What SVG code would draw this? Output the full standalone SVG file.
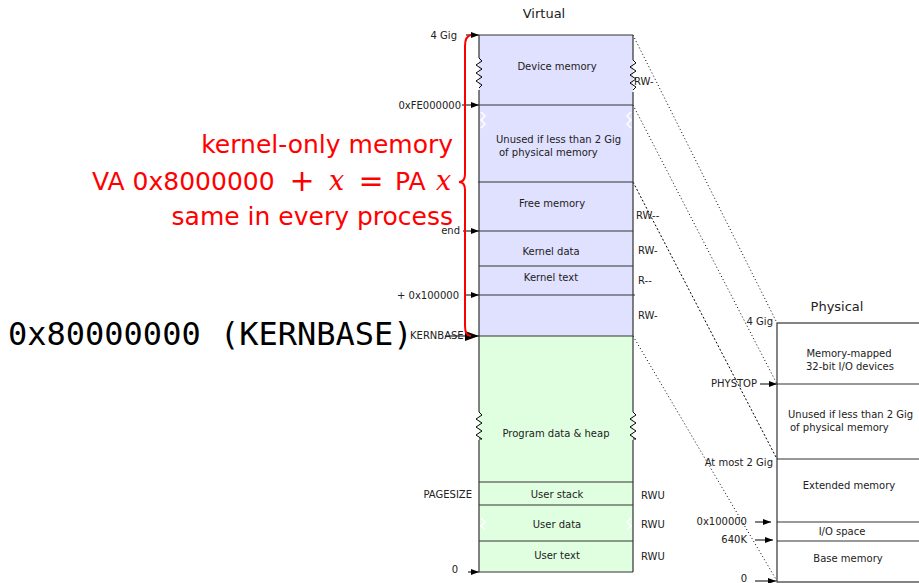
<svg xmlns="http://www.w3.org/2000/svg" width="919" height="583" viewBox="0 0 919 583">
<style>
.t{font-family:"DejaVu Sans",sans-serif;font-size:10px;fill:#222}
.m{text-anchor:middle}
.e{text-anchor:end}
.h{font-family:"DejaVu Sans",sans-serif;font-size:13px;fill:#222;text-anchor:middle}
.b{stroke:#333;stroke-width:1.2;fill:none}
.z{stroke:#000;stroke-width:1;fill:none}
.d{stroke:#000;stroke-width:1;fill:none;stroke-dasharray:1 2.5}
.r{font-family:"DejaVu Sans",sans-serif;font-size:25px;fill:#ff0000;text-anchor:end}
.rs{font-family:"DejaVu Sans",sans-serif;font-size:25px;fill:#ff0000}
.mi{font-family:"DejaVu Serif",serif;font-style:italic;font-size:27px;fill:#ff0000}
.mo{font-family:"DejaVu Sans",sans-serif;font-size:30px;fill:#ff0000;text-anchor:middle}
.ar{stroke:#000;stroke-width:1;fill:none;marker-end:url(#a)}
</style>
<defs>
<marker id="a" markerUnits="userSpaceOnUse" markerWidth="8" markerHeight="6" refX="8" refY="3" orient="auto"><path d="M0,0 L8,3 L0,6 z" fill="#000"/></marker>
<marker id="ab" markerUnits="userSpaceOnUse" markerWidth="14" markerHeight="10" refX="14" refY="5" orient="auto"><path d="M0,0 L14,5 L0,10 z" fill="#000"/></marker>
</defs>

<g id="connectors">
<path class="d" d="M633,35 L777,323"/>
<path class="d" d="M633,105 L777,384"/>
<path class="d" d="M633,182 L777,459" style="stroke-dasharray:2 2"/>
<path class="d" d="M633,336 L777,581"/>
<path class="ar" d="M466,35 L479,35"/>
<path class="ar" d="M462,105 L479,105"/>
<path class="ar" d="M463,231 L479,231"/>
<path class="ar" d="M466,295 L479,295"/>
<path d="M445,336 L479,336" stroke="#000" stroke-width="1.2" fill="none" marker-end="url(#ab)"/>
<path class="ar" d="M468,572 L479,572"/>
<path class="ar" d="M760,384 L777,384"/>
<path class="ar" d="M755,522 L771,522"/>
<path class="ar" d="M755,540 L773,540"/>
<path class="ar" d="M755,581 L776,581"/>
</g>

<g id="virtual">
<text class="h" x="544" y="18">Virtual</text>
<rect x="479" y="35" width="154" height="301" fill="#e0e0ff"/>
<rect x="479" y="336" width="154" height="236" fill="#e0ffe0"/>
<path class="b" d="M479,35 L633,35 M479,105 L633,105 M478,182 L633,182 M479,231 L633,231 M479,266 L633,266 M479,295 L635,295 M479,336 L633,336 M479,482 L633,482 M479,505 L633,505 M479,541 L633,541 M479,572 L633,572"/>
<path class="b" d="M479,35 L479,58 M479,90 L479,412 M479,440 L479,572 M633,35 L633,60 M633,92 L633,412 M633,440 L633,572"/>
<path class="z" d="M479,58 l3,3 l-6,4 l6,4 l-6,4 l6,4 l-6,4 l6,4 l-3,3"/>
<path class="z" d="M633,60 l3,3 l-6,4 l6,4 l-6,4 l6,4 l-6,4 l6,4 l-3,3"/>
<path class="z" d="M479,412 l3,3 l-6,4 l6,4 l-6,4 l6,4 l-6,4 l6,4 l-3,0"/>
<path class="z" d="M633,412 l3,3 l-6,4 l6,4 l-6,4 l6,4 l-6,4 l6,4 l-3,0"/>
<path d="M481,112 l4,4 l-4,4 l4,4 l-4,4 M631,112 l-4,4 l4,4 l-4,4 l4,4 M481,518 l4,4 l-4,4 l4,4 M631,518 l-4,4 l4,4 l-4,4" stroke="#fff" stroke-width="1.5" fill="none"/>
<text class="t m" x="557" y="70">Device memory</text>
<text class="t" x="496" y="143">Unused if less than 2 Gig</text>
<text class="t" x="499" y="156">of physical memory</text>
<text class="t m" x="552" y="207">Free memory</text>
<text class="t m" x="551" y="255">Kernel data</text>
<text class="t m" x="551" y="281">Kernel text</text>
<text class="t m" x="556" y="437">Program data &amp; heap</text>
<text class="t m" x="557" y="498">User stack</text>
<text class="t m" x="557" y="528">User data</text>
<text class="t m" x="557" y="559">User text</text>
<text class="t e" x="457" y="39">4 Gig</text>
<text class="t e" x="461" y="109">0xFE000000</text>
<text class="t e" x="460" y="234">end</text>
<text class="t e" x="459" y="299">+ 0x100000</text>
<text class="t" x="410" y="339">KERNBASE</text>
<text class="t e" x="472" y="498">PAGESIZE</text>
<text class="t e" x="458" y="573">0</text>
<text class="t" x="634" y="85">RW-</text>
<text class="t" x="636" y="219">RW--</text>
<text class="t" x="638" y="254">RW-</text>
<text class="t" x="638" y="284">R--</text>
<text class="t" x="638" y="319">RW-</text>
<text class="t" x="641" y="499">RWU</text>
<text class="t" x="641" y="528">RWU</text>
<text class="t" x="641" y="560">RWU</text>
</g>

<g id="physical">
<text class="h" x="837" y="311">Physical</text>
<rect x="777" y="323" width="150" height="259" fill="#fff" stroke="#333" stroke-width="1.2"/>
<path class="b" d="M777,384 L925,384 M777,459 L925,459 M777,522 L925,522 M777,541 L925,541"/>
<text class="t m" x="849" y="357">Memory-mapped</text>
<text class="t m" x="850" y="370">32-bit I/O devices</text>
<text class="t" x="788" y="418">Unused if less than 2 Gig</text>
<text class="t" x="790" y="431">of physical memory</text>
<text class="t m" x="849" y="489">Extended memory</text>
<text class="t m" x="842" y="535">I/O space</text>
<text class="t m" x="848" y="562">Base memory</text>
<text class="t e" x="773" y="325">4 Gig</text>
<text class="t e" x="757" y="387">PHYSTOP</text>
<text class="t e" x="773" y="466">At most 2 Gig</text>
<text class="t e" x="747" y="525">0x100000</text>
<text class="t e" x="747" y="543">640K</text>
<text class="t e" x="747" y="582">0</text>
</g>

<g id="annotation">
<path d="M471,35 Q465,36 465,46 L465,174 Q465,182 459,182 Q465,182 465,190 L465,326 Q465,336 471,336" stroke="#ff0000" stroke-width="2" fill="none"/>
<text class="r" x="453" y="153">kernel-only memory</text>
<text class="rs" x="92" y="190">VA 0x8000000</text>
<text class="mo" x="302" y="191">+</text>
<text class="mi" x="329" y="190">x</text>
<text class="mo" x="371" y="191">=</text>
<text class="rs" x="395" y="190">PA</text>
<text class="mi" x="436" y="190">x</text>
<text class="r" x="453" y="225">same in every process</text>
<text x="8" y="345" font-family="'DejaVu Sans Mono',monospace" font-size="32" fill="#000">0x80000000 (KERNBASE)</text>
</g>
</svg>
